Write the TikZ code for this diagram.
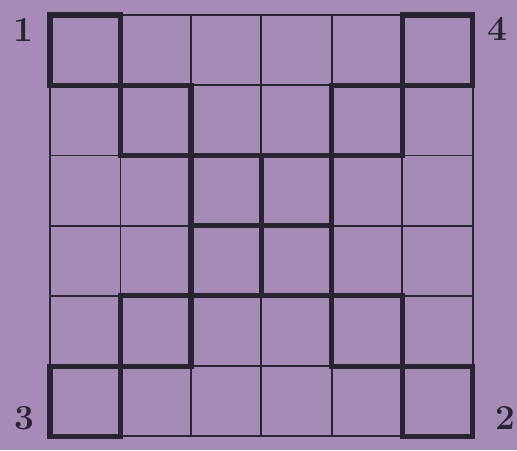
\documentclass[tikz,border=0pt]{standalone}
\usepackage{tikz}
\definecolor{paper}{RGB}{166,139,182}
\definecolor{ink}{RGB}{40,36,50}

\begin{document}
\begin{tikzpicture}[x=0.02cm, y=-0.02cm, line join=miter]

    % --- 0. 背景（紙の色） ---
    \fill[paper] (0, 0) rectangle (517, 450);
    \useasboundingbox (0, 0) rectangle (517, 450);

    \begin{scope}[shift={(50, 15)}, x=1.41cm, y=-1.405cm, ink]

        % --- 1. 細い格子線 ---
        \begin{scope}[line width=1.1pt]
            \foreach \i in {0, 1, ..., 6} {
                \draw (0, \i) -- (6, \i);
                \draw (\i, 0) -- (\i, 6);
            }
        \end{scope}

        % --- 2. 太線（四回対称の模様） ---
        \begin{scope}[line width=2.9pt, line cap=rect]
            \foreach \i/\a/\b in {0/0/1, 0/5/6, 1/0/2, 1/4/6, 2/1/5, 3/2/4,
                                  4/1/5, 5/0/2, 5/4/6, 6/0/1, 6/5/6} {
                \draw (\a, \i) -- (\b, \i); % 横
                \draw (\i, \a) -- (\i, \b); % 縦
            }
        \end{scope}

    \end{scope}

    % --- 3. 角の番号 ---
    \begin{scope}[font=\fontsize{20}{24}\selectfont\bfseries, text=ink]
        \node (n1) at (23, 30)  {1};
        \node (n4) at (497, 29) {4};
        \node (n3) at (24, 418) {3};
        \node (n2) at (505, 418) {2};
    \end{scope}

\end{tikzpicture}
\end{document}
